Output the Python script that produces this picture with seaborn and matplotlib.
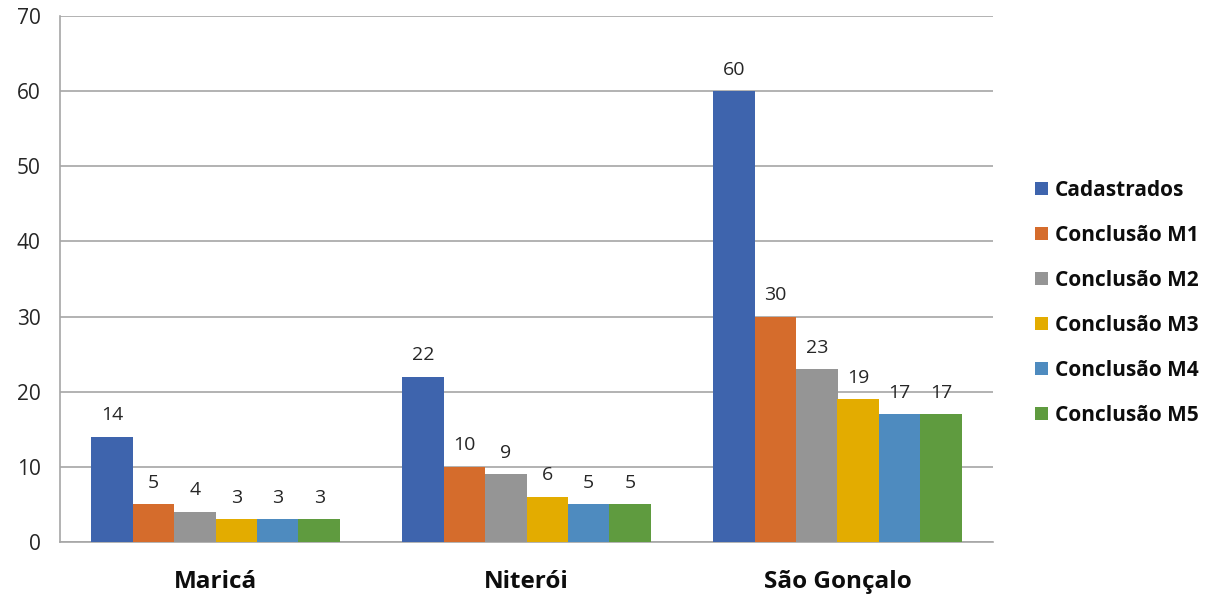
import matplotlib
matplotlib.use("Agg")
import matplotlib.pyplot as plt
import seaborn as sns
import pandas as pd

municipios = ["Maricá", "Niterói", "São Gonçalo"]
series = ["Cadastrados", "Conclusão M1", "Conclusão M2",
          "Conclusão M3", "Conclusão M4", "Conclusão M5"]
cadastrados = [14, 22, 60]
conclusao_m1 = [5, 10, 30]
conclusao_m2 = [4, 9, 23]
conclusao_m3 = [3, 6, 19]
conclusao_m4 = [3, 5, 17]
conclusao_m5 = [3, 5, 17]
cores = ["#3E64AD", "#D56C2C", "#959595", "#E3AC00", "#4E8BBF", "#5F9B3F"]
yticks = [0, 10, 20, 30, 40, 50, 60, 70]

valores = [cadastrados, conclusao_m1, conclusao_m2,
           conclusao_m3, conclusao_m4, conclusao_m5]
rows = []
for nome, vals in zip(series, valores):
    for mun, v in zip(municipios, vals):
        rows.append({"Município": mun, "Série": nome, "Valor": v})
df = pd.DataFrame(rows)

sns.set_theme(style="white")
plt.rcParams["font.family"] = ["Open Sans", "DejaVu Sans"]

fig = plt.figure(figsize=(12.07, 5.95), dpi=100)
ax = fig.add_axes([60 / 1207, 1 - 542 / 595, 933 / 1207, 526 / 595])

sns.barplot(data=df, x="Município", y="Valor", hue="Série",
            order=municipios, hue_order=series, palette=cores,
            width=0.8, saturation=1, ax=ax, zorder=3, linewidth=0)

for cont in ax.containers:
    ax.bar_label(cont, padding=9, fontsize=14, color="#262626")

ax.set_ylim(0, 70)
ax.set_xlim(-0.5, 2.5)
ax.set_yticks(yticks)
ax.tick_params(axis="y", labelsize=15, colors="#262626", length=0, pad=14)
ax.tick_params(axis="x", which="major", length=0, pad=20)
for lbl in ax.get_xticklabels():
    lbl.set_fontsize(17.5)
    lbl.set_fontweight("bold")
    lbl.set_color("#0d0d0d")
ax.set_xticks([-0.5, 0.5, 1.5, 2.5], minor=True)
ax.tick_params(axis="x", which="minor", length=10, width=1.2, color="#a6a6a6")
ax.set_xlabel("")
ax.set_ylabel("")
ax.grid(axis="y", color="#a6a6a6", linewidth=1.2, zorder=0)
for side in ["top", "right"]:
    ax.spines[side].set_visible(False)
for side in ["left", "bottom"]:
    ax.spines[side].set_color("#a6a6a6")
    ax.spines[side].set_linewidth(1.2)

handles, labels = ax.get_legend_handles_labels()
ax.legend(handles, labels, loc="center left", bbox_to_anchor=(1.025, 0.455),
          frameon=False, prop={"weight": "bold", "size": 15},
          handlelength=0.6, handleheight=0.6, handletextpad=0.35,
          labelspacing=1.15, labelcolor="#0d0d0d")

fig.savefig("out.png", dpi=100)
